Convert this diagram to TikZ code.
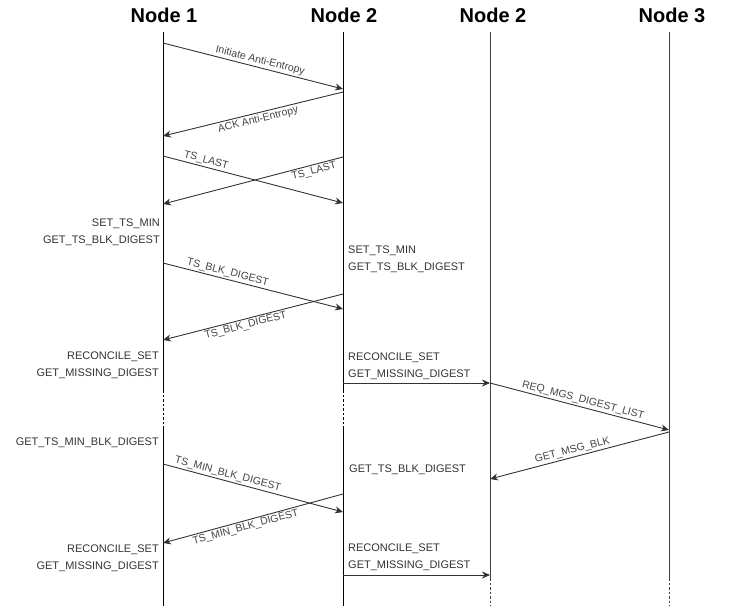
\documentclass[tikz,border=0pt]{standalone}
\usepackage{fontspec}
\setmainfont{Liberation Sans}
\usetikzlibrary{arrows.meta}
\definecolor{msg}{HTML}{333333}
\definecolor{lbl}{HTML}{444444}
\definecolor{txt}{HTML}{333333}
\begin{document}
\begin{tikzpicture}[x=1pt,y=-1pt,
  title/.style={font=\fontsize{20}{24}\selectfont\bfseries, inner sep=0},
  life/.style={line width=0.9pt, draw=black},
  lifeg/.style={line width=0.9pt, draw=black!75},
  gap/.style={line width=0.9pt, draw=black, dash pattern=on 2.5pt off 2pt},
  gapg/.style={line width=0.9pt, draw=black!75, dash pattern=on 2.5pt off 2pt},
  msgarrow/.style={line width=0.9pt, draw=msg, -{Stealth[length=8pt,width=7pt]}},
  mlabel/.style={font=\fontsize{10.5}{12}\selectfont, text=lbl, sloped, inner sep=1.5pt},
  side/.style={font=\fontsize{11}{17}\selectfont, text=txt, inner sep=0},
]
\useasboundingbox (0,0) rectangle (732,610);

% titles
\node[title] (t1) at (164,15) {Node 1};
\node[title] (t2) at (344,15) {Node 2};
\node[title] (t3) at (493,15) {Node 2};
\node[title] (t4) at (672,15) {Node 3};

% lifelines
\coordinate (l1a) at (163,32);  \coordinate (l1b) at (163,390);
\coordinate (l1c) at (163,428); \coordinate (l1d) at (163,606);
\coordinate (l2a) at (343,32);  \coordinate (l2b) at (343,390);
\coordinate (l2c) at (343,428); \coordinate (l2d) at (343,606);
\coordinate (l3a) at (490,32);  \coordinate (l3b) at (490,578); \coordinate (l3d) at (490,606);
\coordinate (l4a) at (669,32);  \coordinate (l4b) at (669,578); \coordinate (l4d) at (669,606);

\draw[life] (l1a) -- (l1b); \draw[gap] (l1b) -- (l1c); \draw[life] (l1c) -- (l1d);
\draw[life] (l2a) -- (l2b); \draw[gap] (l2b) -- (l2c); \draw[life] (l2c) -- (l2d);
\draw[lifeg] (l3a) -- (l3b); \draw[gapg] (l3b) -- (l3d);
\draw[lifeg] (l4a) -- (l4b); \draw[gapg] (l4b) -- (l4d);

% message end points
\coordinate (m1a) at (163,43);  \coordinate (m1b) at (343,89);
\coordinate (m2a) at (343,92);  \coordinate (m2b) at (163,136);
\coordinate (m3a) at (163,156); \coordinate (m3b) at (343,203);
\coordinate (m4a) at (343,157); \coordinate (m4b) at (163,204);
\coordinate (m6a) at (163,263); \coordinate (m6b) at (343,309);
\coordinate (m7a) at (343,294); \coordinate (m7b) at (163,340);
\coordinate (m10a) at (343,383); \coordinate (m10b) at (490,383);
\coordinate (m11b) at (669,430);
\coordinate (m12a) at (669,432); \coordinate (m12b) at (490,479);
\coordinate (m15a) at (163,464); \coordinate (m15b) at (343,512);
\coordinate (m16a) at (343,494); \coordinate (m16b) at (163,543);
\coordinate (m18a) at (343,575); \coordinate (m18b) at (490,575);

% messages
\draw[msgarrow] (m1a) -- node[mlabel, above, pos=0.53] {Initiate Anti-Entropy} (m1b);
\draw[msgarrow] (m2a) -- node[mlabel, below, pos=0.48] {ACK Anti-Entropy} (m2b);
\draw[msgarrow] (m3a) -- node[mlabel, above, pos=0.23] {TS\_LAST} (m3b);
\draw[msgarrow] (m4a) -- node[mlabel, below, pos=0.17] {TS\_LAST} (m4b);
\draw[msgarrow] (m6a) -- node[mlabel, above, pos=0.35] {TS\_BLK\_DIGEST} (m6b);
\draw[msgarrow] (m7a) -- node[mlabel, below, pos=0.55] {TS\_BLK\_DIGEST} (m7b);
\draw[msgarrow] (m10a) -- (m10b);
\draw[msgarrow] (m10b) -- node[mlabel, above, pos=0.51] {REQ\_MGS\_DIGEST\_LIST} (m11b);
\draw[msgarrow] (m12a) -- node[mlabel, above, pos=0.53] {GET\_MSG\_BLK} (m12b);
\draw[msgarrow] (m15a) -- node[mlabel, above, pos=0.35] {TS\_MIN\_BLK\_DIGEST} (m15b);
\draw[msgarrow] (m16a) -- node[mlabel, below, pos=0.55] {TS\_MIN\_BLK\_DIGEST} (m16b);
\draw[msgarrow] (m18a) -- (m18b);

% side texts
\node[side, anchor=east, align=right] (s1) at (160,232) {SET\_TS\_MIN\\GET\_TS\_BLK\_DIGEST};
\node[side, anchor=west, align=left] (s2) at (348,259) {SET\_TS\_MIN\\GET\_TS\_BLK\_DIGEST};
\node[side, anchor=east, align=right] (s3) at (159,365) {RECONCILE\_SET\\GET\_MISSING\_DIGEST};
\node[side, anchor=west, align=left] (s4) at (348,366) {RECONCILE\_SET\\GET\_MISSING\_DIGEST};
\node[side, anchor=west] (s5) at (349,470) {GET\_TS\_BLK\_DIGEST};
\node[side, anchor=east] (s6) at (159,443) {GET\_TS\_MIN\_BLK\_DIGEST};
\node[side, anchor=east, align=right] (s7) at (159,558) {RECONCILE\_SET\\GET\_MISSING\_DIGEST};
\node[side, anchor=west, align=left] (s8) at (348,557) {RECONCILE\_SET\\GET\_MISSING\_DIGEST};
\end{tikzpicture}
\end{document}
